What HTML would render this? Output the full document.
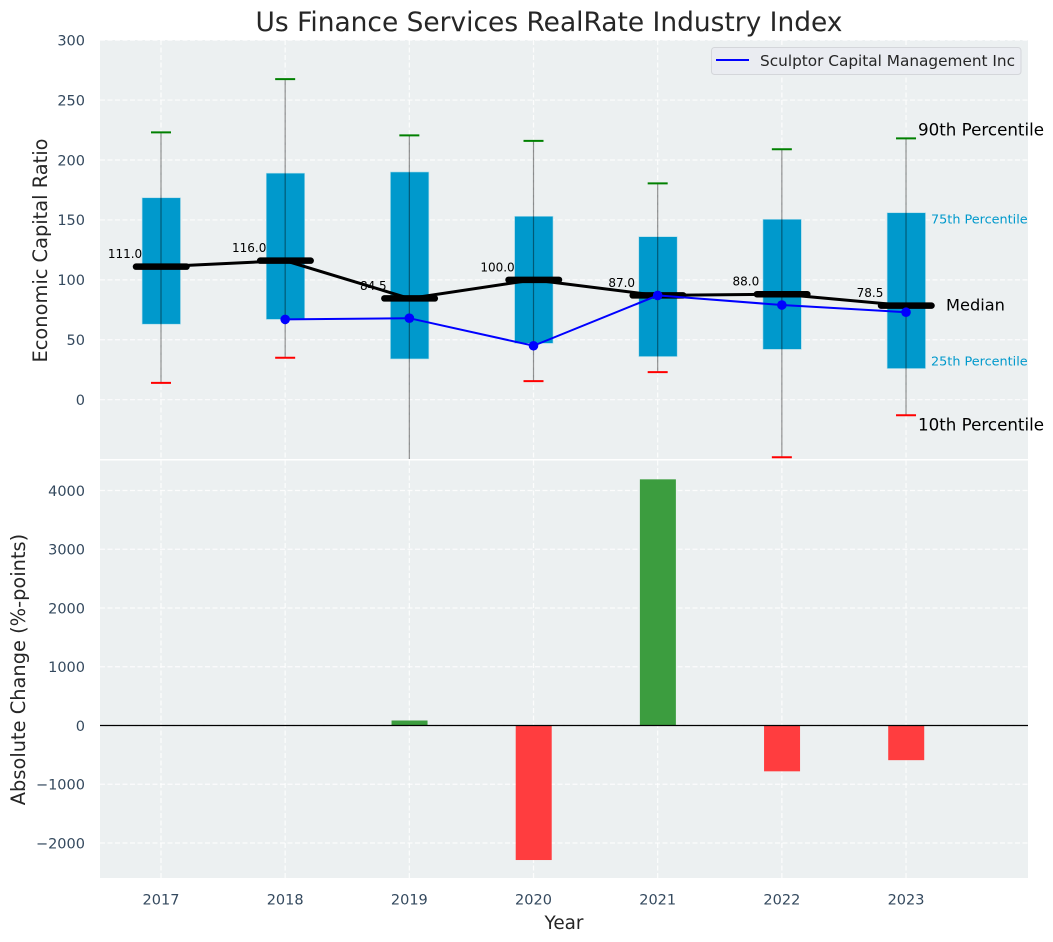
<!DOCTYPE html>
<html>
<head>
<meta charset="utf-8">
<style>
html,body{margin:0;padding:0;background:#fff;}
svg{display:block;font-family:"DejaVu Sans","Liberation Sans",sans-serif;}
</style>
</head>
<body>
<svg id="chart" xmlns="http://www.w3.org/2000/svg" width="1053" height="942" viewBox="0 0 1053 942">
  <defs>
    <clipPath id="topClip"><rect x="100" y="40" width="928" height="419"/></clipPath>
  </defs>
  <rect x="100" y="40" width="928" height="419" fill="#ecf0f1"/>
  <rect x="100" y="460.5" width="928" height="417.5" fill="#ecf0f1"/>
  <g id="grid"></g>
  <g id="top" clip-path="url(#topClip)"></g>
  <g id="bars"></g>
  <g id="labels"></g>
  <text x="549" y="31" text-anchor="middle" font-size="26.45" fill="#262626">Us Finance Services RealRate Industry Index</text>
  <text transform="translate(47,250.5) rotate(-90)" text-anchor="middle" font-size="19.4" fill="#262626">Economic Capital Ratio</text>
  <text transform="translate(25,669.5) rotate(-90)" text-anchor="middle" font-size="19.4" fill="#262626">Absolute Change (%-points)</text>
  <text x="564" y="929" text-anchor="middle" font-size="18.4" fill="#262626">Year</text>
  <g>
    <rect x="711.5" y="47.5" width="309.5" height="27" rx="3" fill="#eaecf1" stroke="#d4d6da" stroke-width="1"/>
    <line x1="716" y1="60" x2="749" y2="60" stroke="#0000ff" stroke-width="2"/>
    <text x="760" y="66" font-size="15.3" fill="#262626">Sculptor Capital Management Inc</text>
  </g>
</svg>
<script>
const years = [2017, 2018, 2019, 2020, 2021, 2022, 2023];
const p10 = [14, 35, -60, 15.5, 23, -48, -13];
const p25 = [63, 67, 34, 47, 36, 42, 26];
const medians = [111.0, 116.0, 84.5, 100.0, 87.0, 88.0, 78.5];
const p75 = [168.5, 189, 190, 153, 136, 150.5, 156];
const p90 = [223, 267.5, 220.5, 216, 180.5, 209, 218];
const company = [null, 67, 68, 45, 87, 79, 73];
const changes = [0, 0, 85, -2290, 4190, -780, -590];
const topTicks = [0, 50, 100, 150, 200, 250, 300];
const bottomTicks = [-2000, -1000, 0, 1000, 2000, 3000, 4000];

const NS = 'http://www.w3.org/2000/svg';
const xScale = function (year) { return 161 + (year - 2017) * 124.17; };
const yTop = function (v) { return 399.7 - v * 1.1985; };
const yBottom = function (v) { return 725.5 - v * 0.05875; };

function make(parent, tag, attrs, text) {
  const el = document.createElementNS(NS, tag);
  for (const key in attrs) { el.setAttribute(key, attrs[key]); }
  if (text !== undefined) { el.textContent = text; }
  parent.appendChild(el);
  return el;
}

const grid = document.getElementById('grid');
const top_ = document.getElementById('top');
const barsG = document.getElementById('bars');
const labels = document.getElementById('labels');
const gridStyle = { stroke: '#ffffff', 'stroke-width': 1.2, 'stroke-dasharray': '5 2.5', opacity: 0.85 };

topTicks.forEach(function (t) {
  const line = make(grid, 'line', Object.assign({ x1: 100, x2: 1028, y1: yTop(t), y2: yTop(t) }, gridStyle));
  
  
  const tick = make(labels, 'text', { x: 85, y: yTop(t) + 5.3, 'text-anchor': 'end', 'font-size': 14.5, fill: '#34495e' }, String(t));
  
  
});

bottomTicks.forEach(function (t) {
  const line = make(grid, 'line', Object.assign({ x1: 100, x2: 1028, y1: yBottom(t), y2: yBottom(t) }, gridStyle));
  
  
  const text = t < 0 ? '\u2212' + Math.abs(t) : String(t);
  const tick = make(labels, 'text', { x: 85, y: yBottom(t) + 5.3, 'text-anchor': 'end', 'font-size': 14.5, fill: '#34495e' }, text);
  
  
});

years.forEach(function (year) {
  const x = xScale(year);
  const v1 = make(grid, 'line', Object.assign({ x1: x, x2: x, y1: 40, y2: 459 }, gridStyle));
  
  
  const v2 = make(grid, 'line', Object.assign({ x1: x, x2: x, y1: 460.5, y2: 878 }, gridStyle));
  
  
  const tick = make(labels, 'text', { x: x, y: 904.5, 'text-anchor': 'middle', 'font-size': 14.5, fill: '#34495e' }, String(year));
  
  
});

years.forEach(function (year, i) {
  const x = xScale(year);
  const box = make(top_, 'rect', {
    x: x - 18.9, y: yTop(p75[i]), width: 38.4, height: yTop(p25[i]) - yTop(p75[i]),
    fill: '#0099cc', stroke: '#a9dbea', 'stroke-width': 0.6
  });
  
  
  const whisker = make(top_, 'line', {
    x1: x, x2: x, y1: yTop(p90[i]), y2: yTop(p10[i]),
    stroke: '#000000', 'stroke-opacity': 0.42, 'stroke-width': 1.2
  });
  
  
  const capHigh = make(top_, 'line', { x1: x - 10, x2: x + 10, y1: yTop(p90[i]), y2: yTop(p90[i]), stroke: '#008000', 'stroke-width': 2 });
  
  
  const capLow = make(top_, 'line', { x1: x - 10, x2: x + 10, y1: yTop(p10[i]), y2: yTop(p10[i]), stroke: '#ff0000', 'stroke-width': 2 });
  
  
  const label = make(top_, 'text', {
    x: x - 36, y: yTop(medians[i]) - 8.5, 'text-anchor': 'middle', 'font-size': 12, fill: '#000000'
  }, medians[i].toFixed(1));
  
  
});

const medianPath = make(top_, 'polyline', {
  points: years.map(function (y, i) { return xScale(y) + ',' + yTop(medians[i]); }).join(' '),
  fill: 'none', stroke: '#000000', 'stroke-width': 3
});



years.forEach(function (year, i) {
  const x = xScale(year);
  const med = make(top_, 'line', {
    x1: x - 25, x2: x + 25.5, y1: yTop(medians[i]), y2: yTop(medians[i]),
    stroke: '#000000', 'stroke-width': 6.5, 'stroke-linecap': 'round'
  });
  
  
});

const companyPts = years.map(function (y, i) {
  return company[i] === null ? null : [xScale(y), yTop(company[i])];
}).filter(Boolean);
const companyLine = make(top_, 'polyline', {
  points: companyPts.map(function (p) { return p.join(','); }).join(' '),
  fill: 'none', stroke: '#0000ff', 'stroke-width': 2
});


companyPts.forEach(function (p) {
  const dot = make(top_, 'circle', { cx: p[0], cy: p[1], r: 4.8, fill: '#0000ff' });
  
  
});

years.forEach(function (year, i) {
  const x = xScale(year);
  const v = changes[i];
  const bar = make(barsG, 'rect', {
    x: x - 17.8, y: Math.min(yBottom(v), yBottom(0)), width: 36, height: Math.abs(yBottom(v) - yBottom(0)),
    fill: v >= 0 ? '#3c9d3f' : '#ff3d3f'
  });
  
  
});
const zero = make(barsG, 'line', { x1: 100, x2: 1028, y1: yBottom(0), y2: yBottom(0), stroke: '#000000', 'stroke-width': 1.3 });



const last = years.length - 1;
const lastX = xScale(years[last]);
const a90 = make(labels, 'text', { x: lastX + 12, y: yTop(p90[last]) - 3, 'font-size': 16.7, fill: '#000000' }, '90th Percentile');


const a75 = make(labels, 'text', { x: lastX + 25, y: yTop(p75[last]) + 11, 'font-size': 12.8, fill: '#0099cc' }, '75th Percentile');


const aMed = make(labels, 'text', { x: lastX + 40, y: yTop(medians[last]) + 5, 'font-size': 16.2, fill: '#000000' }, 'Median');


const a25 = make(labels, 'text', { x: lastX + 25, y: yTop(p25[last]) - 3, 'font-size': 12.8, fill: '#0099cc' }, '25th Percentile');


const a10 = make(labels, 'text', { x: lastX + 12, y: yTop(p10[last]) + 15, 'font-size': 16.7, fill: '#000000' }, '10th Percentile');


</script>
</body>
</html>
